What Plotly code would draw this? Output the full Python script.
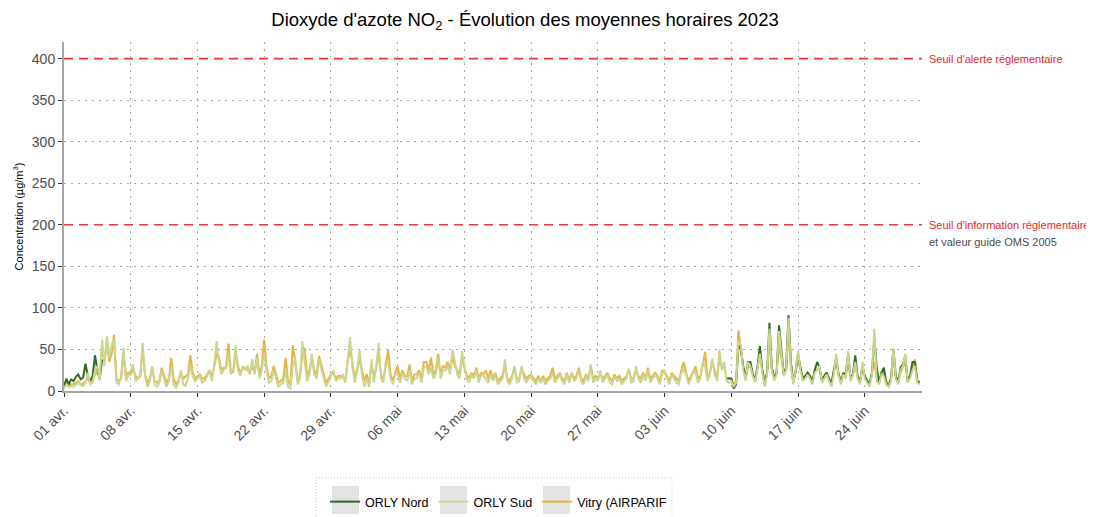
import pandas as pd
import plotly.graph_objects as go

# ---- data: 6-hourly estimates (00h, 06h, 12h, 18h) from 2023-04-01 to 2023-06-29 ----
START = "2023-04-01"

orly_sud = [
    3, 8, 5, 6,   5, 8, 10, 7,   6, 10, 22, 8,   10, 25, 30, 12,   62, 30, 66, 40,
    55, 62, 10, 8,   20, 52, 12, 18,   25, 32, 12, 15,   20, 58, 18, 5,   12, 30, 8, 5,
    10, 25, 15, 5,   12, 30, 8, 4,   10, 25, 8, 6,   15, 30, 18, 12,   15, 18, 10, 12,
    18, 25, 12, 30,   60, 35, 20, 25,   30, 45, 20, 25,   55, 25, 18, 30,   25, 30, 20, 38,
    20, 40, 15, 25,   45, 25, 10, 12,   25, 15, 5, 8,   10, 25, 5, 3,   30, 40, 8, 15,
    60, 35, 12, 20,   45, 20, 15, 38,   25, 15, 5, 12,   18, 25, 12, 15,   15, 20, 10, 40,
    65, 30, 10, 25,   50, 20, 5, 15,   5, 38, 10, 30,   58, 15, 10, 35,   35, 15, 8, 20,
    20, 10, 22, 15,   12, 25, 8, 15,   15, 22, 10, 28,   30, 20, 28, 15,   20, 40, 15, 25,
    25, 30, 20, 50,   35, 20, 15, 48,   30, 15, 10, 20,   15, 25, 10, 20,   18, 15, 10, 20,
    12, 20, 8, 12,   15, 38, 12, 8,   15, 30, 10, 12,   30, 15, 10, 15,   18, 12, 8, 15,
    10, 15, 8, 12,   15, 22, 10, 15,   20, 12, 8, 20,   10, 22, 12, 15,   25, 12, 8, 18,
    12, 32, 10, 15,   12, 25, 10, 15,   20, 10, 8, 18,   12, 15, 8, 12,   15, 27, 10, 12,
    30, 15, 10, 20,   12, 25, 10, 15,   20, 15, 8, 22,   25, 15, 8, 20,   15, 10, 8, 22,
    25, 20, 8, 15,   25, 22, 10, 15,   35, 30, 12, 20,   39, 20, 12, 50,   25, 35, 12, 10,
    12, 5, 10, 60,   55, 25, 12, 35,   30, 18, 10, 28,   45, 22, 5, 20,   75, 25, 12, 20,
    72, 45, 18, 25,   88, 30, 8, 25,   48, 25, 12, 15,   20, 15, 8, 22,   25, 30, 10, 15,
    20, 12, 5, 20,   45, 18, 8, 20,   15, 48, 12, 18,   35, 15, 8, 35,   15, 10, 5, 20,
    75, 12, 8, 20,   18, 8, 5, 12,   52, 15, 8, 25,   30, 45, 10, 15,   25, 30, 10, 8,
]

vitry = [
    5, 10, 6, 8,   8, 10, 12, 8,   8, 12, 15, 10,   12, 20, 22, 15,   55, 35, 60, 35,
    45, 68, 15, 12,   15, 45, 18, 22,   20, 28, 18, 15,   18, 50, 20, 10,   15, 28, 12, 10,
    12, 28, 20, 10,   15, 40, 15, 8,   12, 22, 15, 18,   20, 43, 22, 15,   18, 20, 15, 15,
    20, 25, 18, 28,   45, 40, 25, 28,   28, 57, 25, 22,   45, 30, 22, 28,   28, 25, 22, 30,
    22, 45, 20, 30,   62, 30, 15, 18,   30, 20, 10, 12,   15, 40, 12, 8,   55, 35, 12, 18,
    45, 52, 18, 25,   40, 25, 20, 42,   30, 20, 10, 15,   20, 22, 15, 18,   18, 18, 12, 35,
    50, 35, 15, 25,   38, 25, 12, 20,   10, 32, 15, 28,   45, 20, 15, 30,   50, 20, 12, 22,
    30, 15, 25, 18,   18, 32, 12, 20,   20, 25, 15, 35,   35, 25, 40, 20,   25, 45, 20, 30,
    28, 35, 25, 40,   30, 25, 20, 40,   28, 20, 15, 22,   18, 28, 15, 22,   20, 25, 15, 25,
    15, 22, 12, 15,   18, 32, 15, 12,   18, 28, 15, 15,   28, 20, 15, 18,   20, 15, 12, 18,
    12, 18, 12, 15,   18, 28, 15, 18,   22, 15, 12, 22,   12, 22, 15, 18,   28, 15, 12, 20,
    15, 30, 15, 18,   15, 22, 15, 18,   22, 15, 12, 20,   15, 18, 12, 15,   18, 25, 15, 15,
    25, 18, 15, 22,   15, 28, 15, 18,   22, 18, 12, 25,   22, 18, 12, 22,   18, 15, 12, 25,
    35, 22, 12, 18,   22, 30, 15, 18,   30, 47, 15, 22,   35, 25, 15, 40,   28, 30, 15, 15,
    15, 8, 12, 73,   50, 28, 15, 30,   28, 20, 15, 30,   40, 25, 10, 22,   60, 28, 15, 22,
    55, 40, 20, 25,   70, 30, 12, 22,   40, 28, 15, 18,   22, 18, 12, 25,   25, 28, 12, 18,
    22, 15, 10, 22,   35, 20, 12, 22,   18, 40, 15, 20,   30, 18, 12, 28,   18, 12, 10, 22,
    35, 15, 10, 22,   20, 12, 8, 15,   40, 18, 12, 22,   28, 35, 12, 18,   28, 38, 12, 10,
]

N = None
orly_nord = [
    5, 15, 8, 14,   12, 17, 20, 14,   16, 33, 18, 12,   18, 43, 25, 15,   38, N, N, N,
] + [N] * (64 * 4) + [
    N, N, 15, 15,
    15, 3, 8, 55,   50, 30, 15, 35,   35, 20, 12, 30,   54, 25, 8, 22,   82, 28, 15, 22,
    79, 50, 20, 28,   91, 35, 10, 25,   45, 28, 15, 18,   22, 18, 10, 25,   35, 28, 12, 18,
    22, 15, 8, 25,   40, 20, 10, 22,   18, 45, 15, 20,   43, 18, 10, 30,   18, 12, 8, 22,
    65, 28, 10, 22,   28, 10, 5, 15,   50, 18, 10, 28,   32, 42, 12, 18,   35, 35, 12, 10,
]

tick_dates = ["2023-04-01", "2023-04-08", "2023-04-15", "2023-04-22", "2023-04-29",
              "2023-05-06", "2023-05-13", "2023-05-20", "2023-05-27", "2023-06-03",
              "2023-06-10", "2023-06-17", "2023-06-24"]
tick_labels = ["01 avr.", "08 avr.", "15 avr.", "22 avr.", "29 avr.", "06 mai", "13 mai",
               "20 mai", "27 mai", "03 juin", "10 juin", "17 juin", "24 juin"]
y_ticks = [0, 50, 100, 150, 200, 250, 300, 350, 400]
thresholds = [400, 200]
threshold_labels = ["Seuil d'alerte réglementaire", "Seuil d'information réglementaire"]
oms_label = "et valeur guide OMS 2005"

series_names = ["ORLY Nord", "ORLY Sud", "Vitry (AIRPARIF"]
series_colors = ["#2f6b2a", "#cad690", "#e8b342"]

times = pd.date_range(START, periods=len(orly_sud), freq="6h")

FONT = "Liberation Sans, Arial, sans-serif"
fig = go.Figure()
# drawing order: Vitry, Nord, Sud (Sud on top); legend order Nord, Sud, Vitry
for vals, idx in [(vitry, 2), (orly_nord, 0), (orly_sud, 1)]:
    fig.add_trace(go.Scatter(
        x=times, y=vals, mode="lines", name=series_names[idx],
        line=dict(color=series_colors[idx], width=2),
        connectgaps=False, legendrank=idx + 1,
    ))

# page offset of the screenshot (body margin): target pixel -> figure pixel
OFF = 8
W, H = 1094, 517
L, R, T, B = 64 - OFF, W - (922 - OFF), 42 - OFF, H - (391 - OFF)
pw, ph = W - L - R, H - T - B
def px_x(p):
    return (p - OFF - L) / pw
def px_y(p):
    return (H - B - (p - OFF)) / ph

shapes = []
for t in thresholds:
    shapes.append(dict(type="line", xref="paper", x0=0, x1=1, yref="y", y0=t, y1=t,
                       line=dict(color="white", width=2), layer="above"))
    shapes.append(dict(type="line", xref="paper", x0=0, x1=1, yref="y", y0=t, y1=t,
                       line=dict(color="#f03535", width=1.6, dash="9px,6px"), layer="above"))
# legend frame (dotted) and grey key boxes
shapes.append(dict(type="rect", xref="paper", yref="paper",
                   x0=px_x(316), x1=px_x(672), y0=px_y(478), y1=px_y(545),
                   line=dict(color="#c8c8c8", width=1, dash="1px,2px"), fillcolor="rgba(0,0,0,0)"))
for bx in [332, 440, 543]:
    shapes.append(dict(type="rect", xref="paper", yref="paper",
                       x0=px_x(bx), x1=px_x(bx + 27), y0=px_y(486), y1=px_y(514),
                       line=dict(width=0), fillcolor="#e3e3e3", layer="below"))

annotations = []
for t, lab in zip(thresholds, threshold_labels):
    annotations.append(dict(xref="paper", x=1, xshift=5, yref="y", y=t, text=lab,
                            showarrow=False, xanchor="left", yanchor="middle",
                            font=dict(family=FONT, size=11, color="#e8262a")))
annotations.append(dict(xref="paper", x=1, xshift=5, yref="y", y=200, yshift=-17,
                        text=oms_label, showarrow=False, xanchor="left", yanchor="middle",
                        font=dict(family=FONT, size=11, color="#4d4d4d")))

grid_dash = "1.5px,5.5px"
fig.update_layout(
    width=W, height=H,
    margin=dict(l=L, r=R, t=T, b=B, autoexpand=False),
    paper_bgcolor="white", plot_bgcolor="white",
    font=dict(family=FONT, color="#4d4d4d"),
    title=dict(text="Dioxyde d'azote NO<sub>2</sub> - Évolution des moyennes horaires 2023",
               x=px_x(525), xref="paper", xanchor="center",
               y=1 - (20 - OFF) / H, yref="container", yanchor="middle",
               font=dict(family=FONT, size=18.5, color="#000000")),
    xaxis=dict(range=["2023-04-01", "2023-06-30"], tickvals=tick_dates, ticktext=tick_labels,
               tickangle=-45, tickfont=dict(size=14, color="#4d4d4d"),
               showgrid=True, gridcolor="#a8a8a8", griddash=grid_dash, gridwidth=1,
               showline=True, linecolor="#a6a6a6", linewidth=2,
               ticks="outside", ticklen=4, tickcolor="#333333", zeroline=False,
               automargin=False),
    yaxis=dict(range=[0, 420], tickvals=y_ticks, tickfont=dict(size=14, color="#4d4d4d"),
               showgrid=True, gridcolor="#a8a8a8", griddash=grid_dash, gridwidth=1,
               showline=True, linecolor="#a6a6a6", linewidth=2,
               ticks="outside", ticklen=4, tickcolor="#333333", zeroline=False,
               automargin=False,
               title=dict(text="Concentration (µg/m<sup>3</sup>)",
                          font=dict(size=11, color="#000000"), standoff=6)),
    legend=dict(orientation="h", x=px_x(325), xanchor="left", y=px_y(487), yanchor="top",
                bgcolor="rgba(0,0,0,0)", font=dict(family=FONT, size=12.5, color="#000000"),
                traceorder="normal"),
    shapes=shapes, annotations=annotations,
)

fig.write_html("out.html")
